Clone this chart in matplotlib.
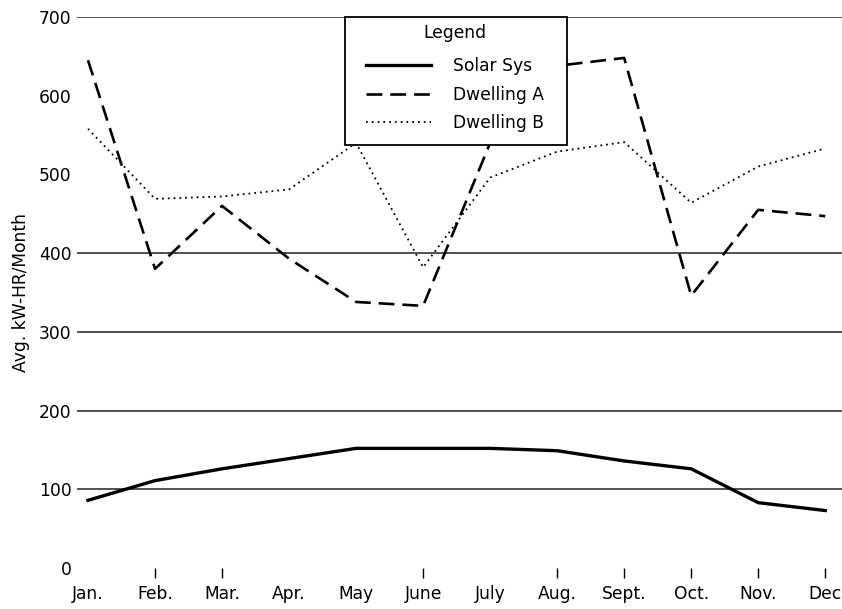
import matplotlib
matplotlib.use("Agg")
import matplotlib.pyplot as plt
from matplotlib.lines import Line2D
from matplotlib.patches import Rectangle

plt.rcParams['font.family'] = ['DejaVu Sans']

months = ["Jan.", "Feb.", "Mar.", "Apr.", "May", "June", "July", "Aug.",
          "Sept.", "Oct.", "Nov.", "Dec"]
solar_sys = [86, 111, 126, 139, 152, 152, 152, 149, 136, 126, 83, 73]
dwelling_a = [645, 380, 460, 393, 338, 333, 540, 638, 648, 346, 455, 447]
dwelling_b = [558, 469, 472, 481, 540, 382, 496, 529, 541, 464, 510, 533]
y_ticks = [0, 100, 200, 300, 400, 500, 600, 700]
grid_values = [100, 200, 300, 400, 700]
hidden_x_ticks = ["Jan.", "Apr.", "May", "July"]

FS = 12.3
fig = plt.figure(figsize=(8.42, 6.09), dpi=100)
ax = fig.add_axes([77/842, 41/609, 765/842, 551/609])

x = list(range(len(months)))
for g in grid_values:
    ax.axhline(g, color='#222222', lw=1.1, zorder=1)

ax.plot(x, solar_sys, color='black', lw=2.4, solid_joinstyle='round', zorder=3)
ax.plot(x, dwelling_a, color='black', lw=1.9, dashes=(6, 3), zorder=3)
ax.plot(x, dwelling_b, color='black', lw=1.3, dashes=(1, 2.2), zorder=3)

ax.set_xlim(-0.164, 11.25)
ax.set_ylim(0, 700)
for s in ax.spines.values():
    s.set_visible(False)

ax.set_xticks(x)
ax.set_xticklabels(months, fontsize=FS)
ax.tick_params(axis='x', length=7, width=1.0, pad=5, color='black')
for tl, m in zip(ax.xaxis.get_major_ticks(), months):
    if m in hidden_x_ticks:
        tl.tick1line.set_visible(False)

ax.set_yticks(y_ticks)
ax.set_yticklabels([str(v) for v in y_ticks], fontsize=FS)
ax.tick_params(axis='y', length=0, pad=4)

ax.set_ylabel("Avg. kW-HR/Month", fontsize=FS)
ax.yaxis.set_label_coords(-0.061, 0.5)

# legend frame and title
frame = Rectangle((345/842, 1 - 145/609), (567-345)/842, (145-17)/609,
                  transform=fig.transFigure, facecolor='white',
                  edgecolor='black', lw=1.3, zorder=4)
fig.add_artist(frame)
fig.text(455/842, 1 - 33/609, "Legend", fontsize=FS, ha='center', va='center',
         zorder=6)

handles = [Line2D([], [], color='black', lw=2.4),
           Line2D([], [], color='black', lw=1.9, dashes=(6, 3)),
           Line2D([], [], color='black', lw=1.3, dashes=(1, 2.2))]
labels = ["Solar Sys", "Dwelling A", "Dwelling B"]
leg = fig.legend(handles, labels, fontsize=FS,
                 loc='upper left', bbox_to_anchor=(366/842, 1 - 57/609),
                 frameon=False, handlelength=3.8, handletextpad=1.3,
                 labelspacing=0.62, borderpad=0.0, borderaxespad=0)
leg.set_zorder(5)

fig.savefig("out.png", dpi=100)
